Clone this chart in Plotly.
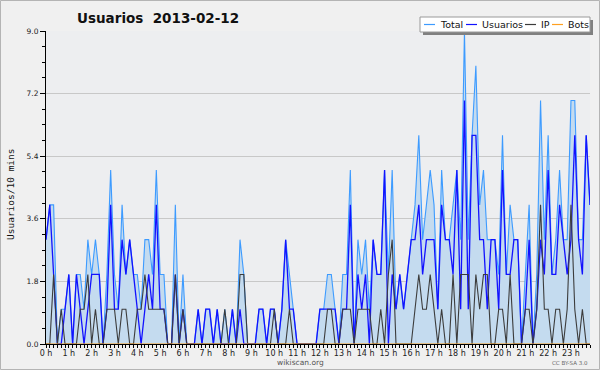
import plotly.graph_objects as go

# ---- data (10-minute slots over one day) ----
hour_labels = [f"{h} h" for h in range(24)]
hour_slots = [h * 6 for h in range(24)]

total = [
    3, 4, 4, 0, 1, 1, 2, 0, 2, 2, 1, 3,
    2, 3, 2, 0, 2, 5, 2, 1, 4, 2, 3, 2,
    2, 1, 3, 3, 2, 5, 2, 2, 0, 0, 4, 0,
    2, 0, 0, 0, 1, 0, 1, 1, 0, 1, 0, 1,
    0, 1, 0, 3, 2, 0, 0, 0, 1, 1, 0, 1,
    1, 0, 1, 3, 2, 1, 0, 0, 0, 0, 0, 0,
    1, 1, 2, 2, 1, 0, 2, 2, 5, 0, 3, 2,
    3, 1, 3, 2, 2, 5, 2, 5, 1, 2, 1, 2,
    3, 4, 6, 3, 4, 5, 4, 1, 5, 3, 3, 4,
    5, 3, 9, 3, 6, 8, 4, 5, 3, 3, 3, 2,
    6, 2, 4, 3, 3, 0, 2, 4, 0, 2, 7, 3,
    6, 2, 3, 5, 3, 3, 7, 7, 3, 3, 6, 4,
]
usuarios = [
    3, 4, 2, 0, 0, 1, 2, 0, 2, 1, 0, 1,
    2, 2, 2, 0, 1, 4, 1, 1, 3, 2, 3, 2,
    1, 0, 1, 2, 1, 4, 1, 1, 0, 0, 2, 0,
    1, 0, 0, 0, 1, 0, 1, 1, 0, 1, 0, 0,
    0, 1, 0, 1, 0, 0, 0, 0, 1, 1, 0, 1,
    1, 0, 1, 3, 1, 1, 0, 0, 0, 0, 0, 0,
    1, 1, 1, 1, 1, 0, 1, 1, 4, 0, 2, 1,
    2, 0, 3, 2, 2, 5, 0, 2, 1, 2, 1, 2,
    3, 3, 4, 2, 3, 3, 3, 1, 4, 3, 3, 2,
    5, 1, 7, 1, 6, 6, 3, 3, 1, 3, 3, 1,
    5, 2, 2, 3, 3, 0, 1, 3, 0, 1, 3, 2,
    5, 2, 2, 4, 3, 2, 3, 6, 3, 2, 6, 4,
]
ip = [
    0, 0, 2, 0, 1, 0, 0, 0, 0, 1, 1, 2,
    0, 1, 0, 0, 1, 1, 1, 0, 1, 1, 0, 0,
    1, 1, 2, 1, 1, 1, 1, 1, 0, 0, 2, 0,
    1, 0, 0, 0, 0, 0, 0, 0, 0, 0, 0, 1,
    0, 0, 0, 2, 2, 0, 0, 0, 0, 0, 0, 0,
    1, 0, 0, 0, 1, 0, 0, 0, 0, 0, 0, 0,
    0, 0, 1, 1, 0, 0, 1, 1, 1, 0, 1, 1,
    1, 1, 0, 0, 1, 0, 2, 3, 0, 0, 0, 0,
    0, 1, 2, 1, 1, 2, 1, 0, 1, 0, 0, 2,
    0, 2, 2, 2, 0, 2, 1, 2, 2, 0, 0, 1,
    1, 0, 2, 0, 0, 0, 1, 1, 0, 1, 4, 1,
    1, 0, 1, 1, 0, 1, 4, 1, 0, 1, 0, 0,
]
bots = [
    0, 0, 0, 0, 0, 0, 0, 0, 0, 0, 0, 0,
    0, 0, 0, 0, 0, 0, 0, 0, 0, 0, 0, 0,
    0, 0, 0, 0, 0, 0, 0, 0, 0, 0, 0, 0,
    0, 0, 0, 0, 0, 0, 0, 0, 0, 0, 0, 0,
    0, 0, 0, 0, 0, 0, 0, 0, 0, 0, 0, 0,
    0, 0, 0, 0, 0, 0, 0, 0, 0, 0, 0, 0,
    0, 0, 0, 0, 0, 0, 0, 0, 0, 0, 0, 0,
    0, 0, 0, 0, 0, 0, 0, 0, 0, 0, 0, 0,
    0, 0, 0, 0, 0, 0, 0, 0, 0, 0, 0, 0,
    0, 0, 0, 0, 0, 0, 0, 0, 0, 0, 0, 0,
    0, 0, 0, 0, 0, 0, 0, 0, 0, 0, 0, 0,
    0, 0, 0, 0, 0, 0, 0, 0, 0, 0, 0, 0,
]
slots = list(range(len(total)))
series_names = ["Total", "Usuarios", "IP", "Bots"]
y_ticks = [0.0, 1.8, 3.6, 5.4, 7.2, 9.0]

# ---- styles ----
C_TOTAL = "#3d9bff"
C_FILL = "#c4dbef"
C_USR = "#1212ff"
C_IP = "#3c3c3c"
C_BOTS = "#ffa020"
colors = [C_TOTAL, C_USR, C_IP, C_BOTS]

W, H = 600, 370
L, R, T, B = 46, 10, 31, 26
PW, PH = W - L - R, H - T - B


def px(x):
    return (x - L) / PW


def py(y):
    return (H - B - y) / PH


fig = go.Figure()
fig.add_trace(go.Scatter(x=slots, y=total, mode="lines", name=series_names[0],
                         line=dict(color=C_TOTAL, width=1.1), fill="tozeroy",
                         fillcolor=C_FILL))
fig.add_trace(go.Scatter(x=slots, y=usuarios, mode="lines", name=series_names[1],
                         line=dict(color=C_USR, width=1.3)))
fig.add_trace(go.Scatter(x=slots, y=ip, mode="lines", name=series_names[2],
                         line=dict(color=C_IP, width=1.1)))
fig.add_trace(go.Scatter(x=slots, y=bots, mode="lines", name=series_names[3],
                         line=dict(color=C_BOTS, width=1)))

shapes = []
annotations = []

# outer border
shapes.append(dict(type="rect", xref="paper", yref="paper",
                   x0=px(0.5), x1=px(599.5), y0=py(369.5), y1=py(0.5),
                   line=dict(color="#b4b4b4", width=1), layer="above"))

# custom legend
lx0, lx1, ly0, ly1 = 420, 590, 17, 32
shapes.append(dict(type="rect", xref="paper", yref="paper",
                   x0=px(lx0 + 3), x1=px(lx1 + 3), y0=py(ly1 + 3), y1=py(ly0 + 3),
                   fillcolor="#808080", line=dict(width=0), layer="above"))
shapes.append(dict(type="rect", xref="paper", yref="paper",
                   x0=px(lx0), x1=px(lx1), y0=py(ly1), y1=py(ly0),
                   fillcolor="#ffffff", line=dict(color="#9a9a9a", width=1), layer="above"))
item_x = [424, 466, 525, 552]
text_x = [438, 480, 539, 566]
for name, col, sx, tx in zip(series_names, colors, item_x, text_x):
    shapes.append(dict(type="line", xref="paper", yref="paper",
                       x0=px(sx), x1=px(sx + 11), y0=py(24.5), y1=py(24.5),
                       line=dict(color=col, width=1.2), layer="above"))
    annotations.append(dict(text=name, xref="paper", yref="paper",
                            x=px(tx), y=py(24.5), xanchor="left", yanchor="middle",
                            showarrow=False,
                            font=dict(family="DejaVu Sans", size=9.5, color="#111111")))

# title
annotations.append(dict(text="<b>Usuarios  2013-02-12</b>", xref="paper", yref="paper",
                        x=px(75), y=py(17.5), xanchor="left", yanchor="middle",
                        showarrow=False,
                        font=dict(family="DejaVu Sans", size=13.5, color="#111111")))
# y axis title
annotations.append(dict(text="Usuarios/10 mins", xref="paper", yref="paper",
                        x=px(10), y=py(194), xanchor="center", yanchor="middle",
                        textangle=-90, showarrow=False,
                        font=dict(family="DejaVu Sans Mono", size=9.5, color="#111111")))
# footer
annotations.append(dict(text="wikiscan.org", xref="paper", yref="paper",
                        x=px(300), y=py(362.5), xanchor="center", yanchor="middle",
                        showarrow=False,
                        font=dict(family="DejaVu Sans", size=7.5, color="#555555")))
annotations.append(dict(text="CC BY-SA 3.0", xref="paper", yref="paper",
                        x=px(570), y=py(362.5), xanchor="center", yanchor="middle",
                        showarrow=False,
                        font=dict(family="DejaVu Sans", size=5.5, color="#666666")))

fig.update_layout(
    width=W, height=H, autosize=False,
    margin=dict(l=L, r=R, t=T, b=B, pad=0),
    paper_bgcolor="#f0f0f0", plot_bgcolor="#edeef0",
    showlegend=False,
    shapes=shapes, annotations=annotations,
    xaxis=dict(range=[0, len(total) - 1], tickmode="array", tickvals=hour_slots,
               ticktext=hour_labels, ticks="outside", ticklen=3, tickcolor="#000",
               tickwidth=1, showgrid=False, zeroline=False, showline=True,
               linecolor="#000", linewidth=1, layer="above traces",
               ticklabelstandoff=-2,
               tickfont=dict(family="DejaVu Sans", size=8, color="#222"),
               minor=dict(dtick=1, tick0=0, ticks="outside", ticklen=3,
                          tickcolor="#000", tickwidth=1, showgrid=False),
               fixedrange=True),
    yaxis=dict(range=[0, 9], tickmode="array", tickvals=y_ticks,
               ticktext=[f"{v:.1f}" for v in y_ticks], ticks="outside", ticklen=5,
               tickcolor="#000", tickwidth=1, showgrid=True, gridcolor="#c8c8c8",
               gridwidth=1, zeroline=False, showline=True, linecolor="#000",
               linewidth=1, layer="above traces",
               tickfont=dict(family="DejaVu Sans", size=7.5, color="#222"),
               minor=dict(dtick=0.45, tick0=0, ticks="outside", ticklen=3,
                          tickcolor="#000", tickwidth=1, showgrid=False),
               fixedrange=True),
)

fig.write_html("out.html")
